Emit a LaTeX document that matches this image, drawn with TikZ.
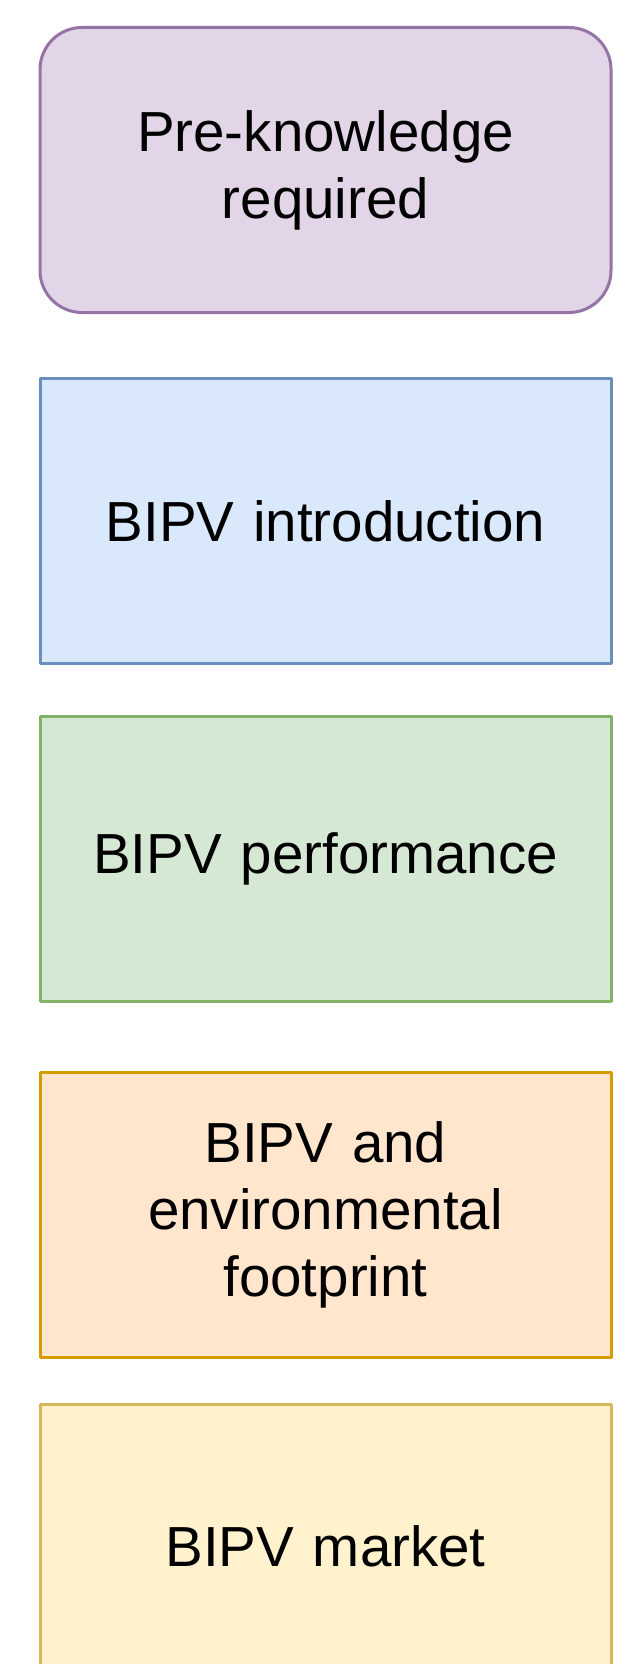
\documentclass[tikz,border=0pt]{standalone}
\usepackage{fontspec}
\setmainfont{Liberation Sans}
\definecolor{purplefill}{HTML}{E1D5E7}
\definecolor{purpleline}{HTML}{9673A6}
\definecolor{bluefill}{HTML}{DAE8FC}
\definecolor{blueline}{HTML}{6C8EBF}
\definecolor{greenfill}{HTML}{D5E8D4}
\definecolor{greenline}{HTML}{82B366}
\definecolor{orangefill}{HTML}{FFE6CC}
\definecolor{orangeline}{HTML}{D79B00}
\definecolor{yellowfill}{HTML}{FFF2CC}
\definecolor{yellowline}{HTML}{D6B656}
\begin{document}
\begin{tikzpicture}[x=1pt,y=-1pt,
  topicbox/.style={rectangle, draw, line width=3pt, line join=round,
    minimum width=571pt, minimum height=285pt, inner sep=0pt,
    text width=540pt, align=center,
    font=\fontsize{56.5}{67}\selectfont},
  roundbox/.style={topicbox, rounded corners=42pt}]
\useasboundingbox (0,0) rectangle (637,1664);
\clip (0,0) rectangle (637,1664);
\fill[white] (0,0) rectangle (637,1664);
\node[roundbox, fill=purplefill, draw=purpleline] (pre) at (325.5,170) {Pre-knowledge\hspace*{5pt}\\required\hspace*{5pt}};
\node[topicbox, fill=bluefill, draw=blueline] (intro) at (325.5,521) {BIPV introduction\hspace*{5pt}};
\node[topicbox, fill=greenfill, draw=greenline] (perf) at (325.5,858.5) {BIPV performance\hspace*{5pt}};
\node[topicbox, fill=orangefill, draw=orangeline] (env) at (325.5,1214.5) {BIPV and\hspace*{5pt}\\environmental\hspace*{5pt}\\footprint\hspace*{5pt}};
\node[topicbox, fill=yellowfill, draw=yellowline] (market) at (325.5,1546.5) {BIPV market\hspace*{5pt}};
\end{tikzpicture}
\end{document}
